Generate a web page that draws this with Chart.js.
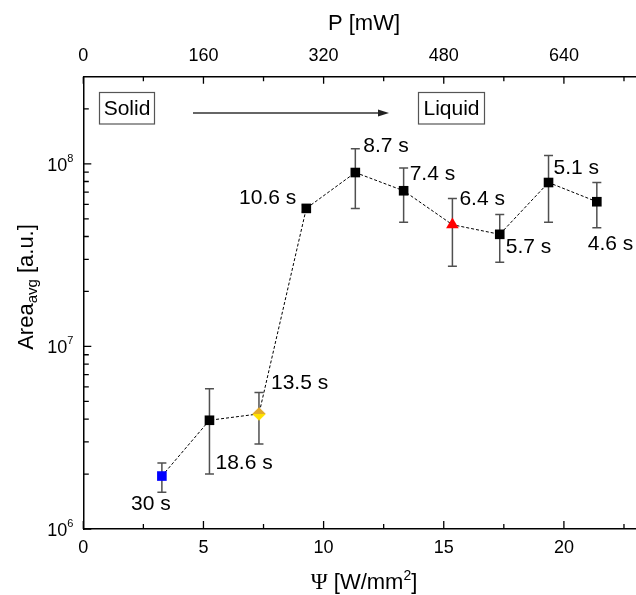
<!DOCTYPE html>
<html>
<head>
<meta charset="utf-8">
<script src="https://cdn.jsdelivr.net/npm/chart.js@4/dist/chart.umd.min.js"></script>
<style>
    html, body { margin: 0; padding: 0; background: #fff; }
    #wrap { width: 636px; height: 595px; }
</style>
</head>
<body>
<div id="wrap"><canvas id="area-chart"></canvas></div>
<script>
// Irradiance (W/mm^2) and average area per run
const psi = [3.27, 5.25, 7.31, 9.28, 11.32, 13.33, 15.36, 17.33, 19.36, 21.37];
const areaAvg = [1.95e6, 3.94e6, 4.27e6, 5.7e7, 8.96e7, 7.12e7, 4.64e7, 4.11e7, 7.9e7, 6.2e7];
const areaHigh = [2.30e6, 5.87e6, 5.6e6, 5.95e7, 1.21e8, 9.48e7, 6.46e7, 5.28e7, 1.11e8, 7.9e7];
const areaLow = [1.59e6, 2.0e6, 2.92e6, 5.45e7, 5.7e7, 4.78e7, 2.75e7, 2.89e7, 4.78e7, 4.47e7];
const timeLabels = ['30 s', '18.6 s', '13.5 s', '10.6 s', '8.7 s', '7.4 s', '6.4 s', '5.7 s', '5.1 s', '4.6 s'];

// Axis ticks
const psiTicks = [0, 5, 10, 15, 20];
const psiMinor = [2.5, 7.5, 12.5, 17.5, 22.5];
const powerTicks = [0, 160, 320, 480, 640];
const powerMinor = [80, 240, 400, 560, 720];
const areaTicks = [1e6, 1e7, 1e8];
const areaTickExp = ['6', '7', '8'];

// P [mW] = 32 * Psi [W/mm^2]
const POWER_PER_PSI = 32;

// label placement around each point: [dx, dy, align]
const labelOffsets = [
    [-11, 28, 'center'], [6, 43, 'left'], [12, -31, 'left'], [-10, -10, 'right'],
    [8, -26, 'left'], [6, -17, 'left'], [7, -26, 'left'], [6, 13, 'left'],
    [5, -14, 'left'], [-9, 42, 'left']
];

const FONT = 'Arial, "Liberation Sans", sans-serif';
const SERIF = '"Times New Roman", "Liberation Serif", serif';

// Two-tone diamond marker
function makeDiamond(r) {
    const c = document.createElement('canvas');
    const s = Math.ceil(r * 2) + 2;
    c.width = s; c.height = s;
    const g = c.getContext('2d');
    const m = s / 2;
    g.beginPath();
    g.moveTo(m - r, m); g.lineTo(m, m - r); g.lineTo(m + r, m); g.closePath();
    g.fillStyle = '#e3a92a'; g.fill();
    g.beginPath();
    g.moveTo(m - r, m); g.lineTo(m, m + r); g.lineTo(m + r, m); g.closePath();
    g.fillStyle = '#ffe100'; g.fill();
    return c;
}

const pointStyles = psi.map((v, i) => i === 2 ? makeDiamond(6.8) : (i === 6 ? 'triangle' : 'rect'));
const pointColors = psi.map((v, i) => i === 0 ? '#0000ff' : (i === 6 ? '#ff0000' : '#000000'));
const pointRadii = psi.map((v, i) => i === 6 ? 7.3 : 6.8);

// Error bars under the markers
const errorBars = {
    id: 'errorBars',
    beforeDatasetsDraw(chart) {
        const ctx = chart.ctx;
        const x = chart.scales.x, y = chart.scales.y;
        ctx.save();
        ctx.strokeStyle = '#505050';
        ctx.lineWidth = 1.5;
        psi.forEach((v, i) => {
            const px = x.getPixelForValue(v);
            const top = y.getPixelForValue(areaHigh[i]);
            const bot = y.getPixelForValue(areaLow[i]);
            ctx.beginPath();
            ctx.moveTo(px, top); ctx.lineTo(px, bot);
            ctx.moveTo(px - 4.5, top); ctx.lineTo(px + 4.5, top);
            ctx.moveTo(px - 4.5, bot); ctx.lineTo(px + 4.5, bot);
            ctx.stroke();
        });
        ctx.restore();
    }
};

// Inward ticks, tick labels, titles, time labels and the phase annotation
const decorations = {
    id: 'decorations',
    afterDatasetsDraw(chart) {
        const ctx = chart.ctx;
        const area = chart.chartArea;
        const x = chart.scales.x, xTop = chart.scales.xTop, y = chart.scales.y;
        ctx.save();
        ctx.strokeStyle = '#000';
        ctx.lineWidth = 1.3;

        // bottom and top ticks
        ctx.beginPath();
        psiTicks.forEach(v => { const p = x.getPixelForValue(v); ctx.moveTo(p, area.bottom); ctx.lineTo(p, area.bottom - 8); });
        psiMinor.forEach(v => { const p = x.getPixelForValue(v); ctx.moveTo(p, area.bottom); ctx.lineTo(p, area.bottom - 5); });
        powerTicks.forEach(v => { const p = xTop.getPixelForValue(v); ctx.moveTo(p, area.top); ctx.lineTo(p, area.top + 7); });
        powerMinor.forEach(v => { const p = xTop.getPixelForValue(v); ctx.moveTo(p, area.top); ctx.lineTo(p, area.top + 4.5); });
        // left ticks, major decades and 2..9 minors
        areaTicks.forEach(v => { const p = y.getPixelForValue(v); ctx.moveTo(area.left, p); ctx.lineTo(area.left + 8, p); });
        for (let d = 1e6; d <= 1e8; d *= 10) {
            for (let k = 2; k <= 9; k++) {
                const v = k * d;
                if (v >= y.max) break;
                const p = y.getPixelForValue(v);
                ctx.moveTo(area.left, p); ctx.lineTo(area.left + 5.5, p);
            }
        }
        ctx.stroke();

        // tick labels
        ctx.fillStyle = '#000';
        ctx.font = '18px ' + FONT;
        ctx.textAlign = 'center';
        ctx.textBaseline = 'middle';
        psiTicks.forEach(v => ctx.fillText(String(v), x.getPixelForValue(v), 548));
        powerTicks.forEach(v => ctx.fillText(String(v), xTop.getPixelForValue(v), 56));
        areaTicks.forEach((v, i) => {
            const p = y.getPixelForValue(v);
            ctx.font = '11px ' + FONT;
            const ew = ctx.measureText(areaTickExp[i]).width;
            const right = area.left - 10;
            ctx.textAlign = 'left';
            ctx.fillText(areaTickExp[i], right - ew, p - 5);
            ctx.font = '18px ' + FONT;
            ctx.textAlign = 'right';
            ctx.fillText('10', right - ew, p + 2);
        });

        // top title
        ctx.font = '22px ' + FONT;
        ctx.textAlign = 'center';
        ctx.fillText('P [mW]', 364, 24);

        // bottom title: serif Psi, sans units, superscript 2
        const parts = [['Ψ', '23px ' + SERIF, 0], [' [W/mm', '22px ' + FONT, 0], ['2', '14px ' + FONT, -7], [']', '22px ' + FONT, 0]];
        drawParts(ctx, parts, 364, 583);

        // left title, rotated
        ctx.save();
        ctx.translate(27, 287);
        ctx.rotate(-Math.PI / 2);
        drawParts(ctx, [['Area', '22px ' + FONT, 0], ['avg', '15px ' + FONT, 6], [' [a.u.]', '22px ' + FONT, 0]], 0, 0);
        ctx.restore();

        // time labels next to each point
        ctx.font = '21px ' + FONT;
        ctx.textBaseline = 'middle';
        timeLabels.forEach((t, i) => {
            const px = x.getPixelForValue(psi[i]);
            const py = y.getPixelForValue(areaAvg[i]);
            const o = labelOffsets[i];
            ctx.textAlign = o[2];
            ctx.fillText(t, px + o[0], py + o[1]);
        });

        // phase annotation: Solid -> Liquid
        ctx.strokeStyle = '#555';
        ctx.lineWidth = 1.2;
        ctx.strokeRect(99.5, 92.5, 55, 31.5);
        ctx.strokeRect(418.5, 92.5, 66, 31.5);
        ctx.textAlign = 'center';
        ctx.fillText('Solid', 127, 109);
        ctx.fillText('Liquid', 451.5, 109);
        ctx.strokeStyle = '#666';
        ctx.lineWidth = 2;
        ctx.beginPath();
        ctx.moveTo(193, 113); ctx.lineTo(381, 113);
        ctx.stroke();
        ctx.fillStyle = '#222';
        ctx.beginPath();
        ctx.moveTo(389, 113); ctx.lineTo(378, 109.5); ctx.lineTo(378, 116.5); ctx.closePath();
        ctx.fill();
        ctx.restore();
    }
};

// Draw a run of text pieces centred on (cx, cy); each piece: [text, font, yShift]
function drawParts(ctx, parts, cx, cy) {
    let total = 0;
    parts.forEach(p => { ctx.font = p[1]; total += ctx.measureText(p[0]).width; });
    let cur = cx - total / 2;
    ctx.textAlign = 'left';
    ctx.textBaseline = 'middle';
    parts.forEach(p => {
        ctx.font = p[1];
        ctx.fillText(p[0], cur, cy + p[2]);
        cur += ctx.measureText(p[0]).width;
    });
}

const axisBorder = { display: true, color: '#000', width: 1.5 };

new Chart(document.getElementById('area-chart'), {
    type: 'scatter',
    data: {
        datasets: [{
            data: psi.map((v, i) => ({ x: v, y: areaAvg[i] })),
            showLine: true,
            borderColor: '#000',
            borderWidth: 1,
            borderDash: [3, 2],
            pointStyle: pointStyles,
            pointBackgroundColor: pointColors,
            pointBorderColor: pointColors,
            pointBorderWidth: 0,
            pointRadius: pointRadii,
            clip: false
        }]
    },
    options: {
        responsive: true,
        maintainAspectRatio: false,
        animation: false,
        // axes run right to the canvas edge
        layout: { padding: 0, autoPadding: false },
        plugins: { legend: { display: false }, tooltip: { enabled: false } },
        scales: {
            x: {
                type: 'linear', position: 'bottom', min: 0, max: 23,
                ticks: { display: false }, grid: { display: false }, border: axisBorder,
                afterFit(s) { s.height = 66; }
            },
            xTop: {
                type: 'linear', position: 'top', min: 0, max: 23 * POWER_PER_PSI,
                ticks: { display: false }, grid: { display: false }, border: axisBorder,
                afterFit(s) { s.height = 76.7; }
            },
            y: {
                type: 'logarithmic', position: 'left', min: 1e6, max: 3e8,
                ticks: { display: false }, grid: { display: false }, border: axisBorder,
                afterFit(s) { s.width = 83.3; }
            }
        }
    },
    plugins: [errorBars, decorations]
});
</script>
</body>
</html>
